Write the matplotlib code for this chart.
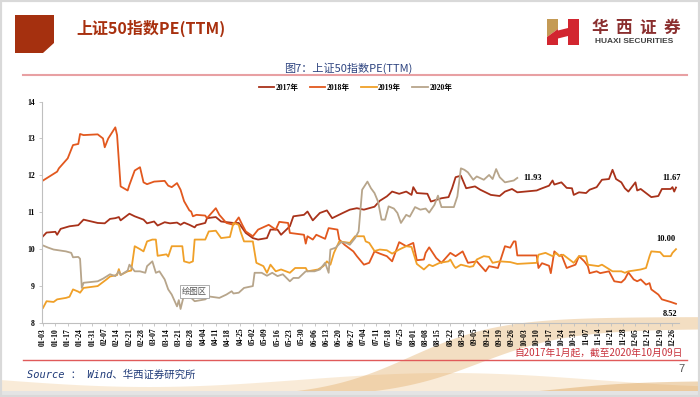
import matplotlib
matplotlib.use('Agg')
import matplotlib.pyplot as plt
import matplotlib.dates as mdates
from matplotlib.patches import Polygon, Rectangle
import numpy as np
import pandas as pd

plt.rcParams['font.family'] = ['Liberation Serif', 'Noto Sans CJK SC']

# 每年的数据按交易日序号对齐到2017年的日期轴上（月-日）
d17 = ['01-03','01-05','01-10','01-11','01-13','01-18','01-23','01-26','02-03','02-07','02-10','02-13','02-15','02-16',
       '02-21','02-24','03-01','03-03','03-07','03-09','03-13','03-16','03-20','03-22','03-24','03-27','03-30','03-31',
       '04-05','04-06','04-11','04-14','04-21','04-24','04-28','05-02','05-05','05-10','05-12','05-16','05-18','05-23',
       '05-25','05-31','06-02','06-05','06-09','06-13','06-16','06-22','06-26','06-30','07-04','07-10','07-13','07-17',
       '07-20','07-24','07-28','07-31','08-01','08-03','08-09','08-11','08-17','08-21','08-23','08-25','08-28','08-31',
       '09-05','09-08','09-14','09-19','09-22','09-26','09-29','10-10','10-12','10-17','10-19','10-20','10-24','10-27',
       '10-30','10-31','11-03','11-07','11-09','11-13','11-16','11-20','11-22','11-24','11-27','11-29','12-01','12-05',
       '12-06','12-08','12-11','12-14','12-18','12-20','12-25','12-26','12-27','12-28']
v17 = [10.35,10.45,10.47,10.39,10.55,10.62,10.65,10.80,10.71,10.70,10.82,10.84,10.87,10.78,
       10.96,10.89,10.80,10.70,10.75,10.64,10.73,10.70,10.72,10.66,10.72,10.66,10.59,10.65,
       10.71,10.84,10.87,10.75,10.71,10.71,10.44,10.30,10.26,10.30,10.53,10.53,10.39,10.62,
       10.89,10.93,11.02,10.78,10.98,11.05,10.84,10.98,11.07,11.11,11.07,11.15,11.31,11.43,
       11.56,11.50,11.56,11.47,11.68,11.52,11.50,11.29,11.38,11.41,11.65,11.95,11.99,11.65,
       11.70,11.61,11.47,11.44,11.56,11.63,11.54,11.59,11.63,11.72,11.86,11.75,11.81,11.66,
       11.65,11.47,11.54,11.52,11.61,11.68,11.88,11.90,12.15,11.90,11.81,11.65,11.56,11.81,
       11.59,11.63,11.52,11.41,11.44,11.63,11.63,11.68,11.56,11.67]

d18 = ['01-03','01-11','01-12','01-17','01-20','01-23','01-24','01-26','02-03','02-06','02-07','02-09','02-13','02-14',
       '02-16','02-20','02-21','02-24','02-27','03-01','03-03','03-07','03-13','03-15','03-17','03-20','03-22','03-24',
       '03-27','03-28','03-29','03-31','04-05','04-06','04-11','04-13','04-17','04-21','04-24','04-26','04-28','05-02',
       '05-05','05-11','05-15','05-17','05-22','05-23','05-31','06-01','06-02','06-05','06-07','06-12','06-14','06-19',
       '06-20','06-23','06-28','06-30','07-04','07-07','07-10','07-13','07-17','07-20','07-24','07-28','08-01','08-03',
       '08-07','08-08','08-10','08-14','08-17','08-22','08-25','08-29','09-01','09-06','09-11','09-13','09-18','09-22',
       '09-25','09-27','09-28','09-29','10-10','10-11','10-13','10-17','10-18','10-20','10-23','10-24','10-27','11-01',
       '11-03','11-06','11-08','11-09','11-13','11-15','11-20','11-23','11-27','11-29','12-01','12-04','12-06','12-08',
       '12-11','12-13','12-14','12-18','12-20','12-25','12-28']
v18 = [11.86,12.10,12.19,12.46,12.82,12.85,13.12,13.09,13.11,13.00,12.76,13.00,13.30,13.09,
       11.70,11.59,11.74,12.13,12.22,11.81,11.76,11.83,11.85,11.72,11.68,11.79,11.61,11.30,
       11.05,11.02,10.89,10.93,10.91,10.84,11.11,10.93,10.71,10.66,10.86,10.66,10.48,10.35,
       10.53,10.66,10.53,10.74,10.71,10.44,10.39,10.15,10.35,10.26,10.39,10.28,10.57,10.53,
       10.26,10.12,9.94,9.81,9.58,9.63,9.94,9.88,9.81,9.67,10.19,10.08,10.17,9.70,
       9.72,9.90,10.05,9.76,9.63,9.90,9.81,9.94,9.63,9.67,9.40,9.54,9.49,10.08,
       10.04,10.21,10.21,9.83,9.83,9.49,9.62,9.55,9.35,9.94,9.81,9.85,9.49,9.58,
       9.81,9.67,9.54,9.35,9.40,9.35,9.40,9.13,9.10,9.19,9.37,9.18,9.13,9.18,
       9.04,9.08,8.91,8.77,8.64,8.57,8.52]

d19 = ['01-03','01-05','01-09','01-11','01-16','01-18','01-20','01-23','01-24','01-26','02-03','02-08','02-10','02-14',
       '02-15','02-16','02-20','02-22','02-24','02-27','03-01','03-03','03-06','03-08','03-09','03-14','03-15','03-17',
       '03-23','03-24','03-27','03-29','03-30','04-05','04-07','04-11','04-14','04-19','04-21','04-24','04-25','04-27',
       '05-02','05-04','05-08','05-10','05-12','05-15','05-18','05-23','05-26','06-01','06-02','06-08','06-11','06-13',
       '06-15','06-17','06-20','06-26','06-29','07-04','07-05','07-07','07-10','07-13','07-17','07-20','07-24','07-28',
       '07-31','08-03','08-07','08-10','08-12','08-16','08-21','08-22','08-24','08-25','08-28','09-02','09-04','09-06',
       '09-10','09-13','09-15','09-19','09-25','09-29','10-10','10-11','10-15','10-19','10-21','10-23','10-25','10-28',
       '10-31','11-03','11-07','11-08','11-14','11-16','11-19','11-22','11-27','11-29','12-01','12-04','12-08','12-11',
       '12-13','12-14','12-19','12-21','12-25','12-26','12-28']
v19 = [8.41,8.59,8.57,8.64,8.68,8.71,8.91,8.85,8.82,8.95,9.00,9.18,9.26,9.30,
       9.46,9.30,9.40,9.42,10.08,10.00,9.94,10.21,10.26,10.26,9.82,9.86,9.80,10.08,
       10.08,9.67,9.63,9.67,10.26,10.26,10.48,10.50,10.30,10.33,10.71,10.66,10.48,10.21,
       10.21,9.63,9.54,9.36,9.58,9.40,9.45,9.36,9.49,9.49,9.40,9.45,9.54,9.67,
       9.58,9.90,10.21,10.17,10.35,10.35,10.21,10.17,9.95,9.99,9.97,9.88,9.99,10.08,
       10.06,9.60,9.45,9.58,9.54,9.63,9.67,9.72,9.55,9.49,9.58,9.52,9.54,9.72,
       9.81,9.79,9.63,9.67,9.65,9.60,9.63,9.85,9.90,9.81,9.90,9.81,9.85,9.74,
       9.63,9.81,9.81,9.58,9.54,9.58,9.49,9.40,9.40,9.36,9.40,9.42,9.45,9.49,
       9.81,9.94,9.92,9.81,9.81,9.90,10.00]

d20 = ['01-03','01-06','01-09','01-16','01-19','01-20','01-23','01-24','01-25','01-26','02-03','02-06','02-08','02-10',
       '02-13','02-15','02-16','02-20','02-21','02-24','02-27','03-02','03-03','03-06','03-08','03-10','03-13','03-15',
       '03-17','03-20','03-21','03-22','03-24','03-27','03-30','04-05','04-07','04-13','04-17','04-20','04-21','04-24',
       '04-27','05-02','05-03','05-07','05-10','05-13','05-16','05-19','05-23','05-25','05-28','06-01','06-06','06-09',
       '06-12','06-14','06-15','06-18','06-21','06-24','06-26','06-29','07-01','07-03','07-06','07-08','07-10','07-12',
       '07-14','07-16','07-18','07-21','07-23','07-25','07-28','07-30','08-02','08-05','08-08','08-10','08-13','08-15',
       '08-17','08-22','08-24','08-26','08-28','08-30','09-01','09-04','09-06','09-10','09-13','09-15','09-17','09-19',
       '09-22','09-25','09-27','09-29']
v20 = [10.10,10.04,9.99,9.94,9.90,9.78,9.79,9.74,8.95,9.09,9.13,9.20,9.26,9.32,
       9.27,9.40,9.30,9.42,9.58,9.40,9.40,9.36,9.54,9.67,9.36,9.40,9.18,8.91,
       8.77,8.45,8.62,8.38,8.77,8.73,8.59,8.64,8.72,8.68,8.77,8.86,8.80,8.82,
       8.95,9.00,9.36,9.36,9.28,9.36,9.27,9.32,9.13,9.22,9.22,9.40,9.40,9.45,
       9.63,9.36,9.99,10.04,10.19,10.17,10.12,10.30,10.48,11.61,11.83,11.65,11.52,11.29,
       10.80,10.80,11.16,11.10,10.98,10.71,10.93,10.88,11.14,11.07,11.10,10.99,11.20,11.45,
       11.14,11.14,11.14,11.43,12.19,12.15,12.08,11.88,11.97,11.88,12.01,11.90,12.17,11.95,
       11.81,11.84,11.86,11.93]

series = [('2017年', d17, v17, '#A8321A'),
          ('2018年', d18, v18, '#E2581E'),
          ('2019年', d19, v19, '#F0A028'),
          ('2020年', d20, v20, '#B7A58B')]

def to_dates(md):
    return pd.to_datetime(['2017-' + s for s in md])

fig = plt.figure(figsize=(7, 3.97), dpi=100)

# 背景层，像素坐标
bg = fig.add_axes([0, 0, 1, 1], zorder=-1)
bg.set_xlim(0, 700)
bg.set_ylim(397, 0)
bg.axis('off')

xs = np.linspace(0, 700, 300)
bg.fill_between(xs, 380 + 7 * np.sin(xs / 95), 397, color='#F2CF9E', alpha=0.4, lw=0)
bg.fill_between(xs, 397 - 80 / (1 + np.exp(-(xs - 410) / 45)), 397 - 68 / (1 + np.exp(-(xs - 480) / 45)),
                color='#E3AD68', alpha=0.4, lw=0)
bg.fill_between(xs, 397 - 16 / (1 + np.exp(-(xs - 560) / 40)), 397, color='#D99A48', alpha=0.4, lw=0)
bg.add_patch(Rectangle((0, 391), 700, 6, color='#E4E4E4', lw=0))
bg.add_patch(Rectangle((0, 0), 700, 397, fill=False, ec='#D9D9D9', lw=3))

# 标题区
bg.add_patch(Polygon([(15, 15), (54, 15), (54, 43), (43, 53), (15, 53)], color='#A5300F', lw=0))
bg.text(76, 28, '上证50指数PE(TTM)', fontsize=11.5, fontweight='bold', color='#A8300E',
        family=['Noto Sans CJK SC'], va='center', ha='left')

# 华西证券 logo
bg.add_patch(Polygon([(547, 19), (558, 19), (558, 29), (547, 37)], color='#C49A55', lw=0))
bg.add_patch(Polygon([(547, 37), (558, 29), (558, 45), (547, 45)], color='#D22630', lw=0))
bg.add_patch(Polygon([(556, 31), (568, 28), (568, 36), (556, 39)], color='#D22630', lw=0))
bg.add_patch(Polygon([(568, 19), (579, 19), (579, 45), (568, 45)], color='#D22630', lw=0))
for i, ch in enumerate('华西证券'):
    bg.text(600 + i * 24, 28, ch, fontsize=12, fontweight='bold', color='#8A2E2E',
            family=['Noto Sans CJK SC'], ha='center', va='center')
bg.text(634, 41.5, 'HUAXI SECURITIES', fontsize=6, fontweight='bold', color='#404040',
        family=['Liberation Sans'], ha='center', va='center')

bg.text(348, 68, '图7：上证50指数PE(TTM)', fontsize=8, color='#2E4480',
        family=['Noto Sans CJK SC'], ha='center', va='center')
bg.plot([23, 687], [75, 75], color='#E8A0A3', lw=1.5)

# 底部
bg.plot([23, 687], [360, 360], color='#E05A5A', lw=1)
bg.text(683, 353, '自2017年1月起，截至2020年10月09日', fontsize=7, color='#C8323C',
        family=['Noto Sans CJK SC'], ha='right', va='center')
bg.text(27, 375, 'Source ： Wind、华西证券研究所', fontsize=7.5, style='italic', color='#1F3A78',
        family=['DejaVu Sans Mono', 'Noto Sans CJK SC'], ha='left', va='center')
bg.text(681, 369, '7', fontsize=8, color='#555555', family=['Liberation Sans'], ha='center', va='center')

# 主图
ax = fig.add_axes([42 / 700, 1 - 323 / 397, 637 / 700, 221.5 / 397])
ax.patch.set_alpha(0)

lines = {}
for name, d, v, c in series:
    s = pd.Series(v, index=to_dates(d))
    ax.plot(s.index, s.values, color=c, lw=1.3, label=name)
    lines[name] = s

ax.set_ylim(8, 14)
ax.set_yticks(range(8, 15))
ax.set_xlim(pd.Timestamp('2017-01-02 10:00'), pd.Timestamp('2017-12-29 17:00'))
ticks = pd.date_range('2017-01-03', '2017-12-26', freq='7D')
ax.set_xticks(ticks)
ax.xaxis.set_major_formatter(mdates.DateFormatter('%m-%d'))

for sp in ['top', 'right']:
    ax.spines[sp].set_visible(False)
for sp in ['left', 'bottom']:
    ax.spines[sp].set_color('#BFBFBF')
    ax.spines[sp].set_linewidth(0.8)
ax.tick_params(axis='both', length=2, width=0.6, color='#BFBFBF', labelsize=5.5)
ax.tick_params(axis='y', pad=3)
ax.tick_params(axis='x', pad=1.5)
for lb in ax.get_xticklabels():
    lb.set_rotation(90)
    lb.set_fontweight('bold')
for lb in ax.get_yticklabels():
    lb.set_fontweight('bold')

# 末值标注
ends = [('2020年', 11.93, (4, 0), 'left'),
        ('2017年', 11.67, (-3, 7), 'center'),
        ('2019年', 10.00, (-7, 7), 'center'),
        ('2018年', 8.52, (-4, -7), 'center')]
for name, val, off, ha in ends:
    s = lines[name]
    ax.annotate(f'{val:.2f}', xy=(s.index[-1], s.values[-1]), xytext=off, textcoords='offset points',
                fontsize=6, fontweight='bold', ha=ha, va='center', color='black')

ax.text(pd.Timestamp('2017-03-30'), 8.85, '绘图区', fontsize=6, color='#555555',
        family=['Noto Sans CJK SC'], ha='center', va='center',
        bbox=dict(boxstyle='square,pad=0.25', fc='white', ec='#A0A0A0', lw=0.6))

fig.legend(handles=ax.get_lines(), loc='center', bbox_to_anchor=(355.5 / 700, 1 - 88 / 397), ncol=4,
           frameon=False, prop={'size': 5.5, 'weight': 'bold'}, handlelength=2.0, handletextpad=0.2,
           columnspacing=1.5)

fig.savefig('out.png', dpi=100)
